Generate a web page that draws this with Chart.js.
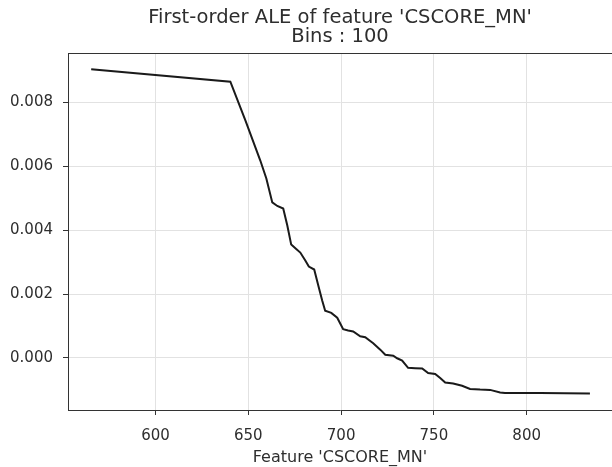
<!DOCTYPE html>
<html>
<head>
<meta charset="utf-8">
<script src="https://cdn.jsdelivr.net/npm/chart.js@4.4.0/dist/chart.umd.min.js"></script>
<style>
	html, body { margin: 0; padding: 0; background: #fff; }
	#wrap { width: 612px; height: 467px; }
</style>
</head>
<body>
<div id="wrap"><canvas id="ale-canvas" width="612" height="467"></canvas></div>
<script>
(function () {
	'use strict';

	// --- Data ---

	const featureValues = [
		565.3, 640.3, 648.4, 656.4, 659.7, 662.9, 665.6, 668.8, 671.0, 673.1,
		675.8, 678.0, 680.7, 682.6, 685.5, 687.7, 689.8, 691.4, 694.7, 697.9,
		701.1, 703.8, 706.5, 710.3, 713.0, 715.7, 717.3, 721.1, 723.8, 728.1,
		730.2, 732.9, 736.1, 739.9, 743.7, 746.9, 750.7, 753.4, 756.1, 760.4,
		765.2, 769.5, 774.9, 780.3, 785.7, 788.3, 807.2, 834.1
	];

	const aleValues = [
		0.00904, 0.00865, 0.00744, 0.00619, 0.00562, 0.00487, 0.00476, 0.00468, 0.00415, 0.00355,
		0.00341, 0.00330, 0.00305, 0.00286, 0.00277, 0.00227, 0.00180, 0.00148, 0.00141, 0.00126,
		0.00090, 0.00086, 0.00083, 0.00068, 0.00065, 0.00053, 0.00046, 0.00026, 0.00010, 0.00007,
		-0.00001, -0.00008, -0.00031, -0.00032, -0.00033, -0.00047, -0.00050, -0.00063, -0.00077, -0.00080,
		-0.00087, -0.00097, -0.00099, -0.00100, -0.00108, -0.00110, -0.00110, -0.00111
	];

	const xTicks = [600, 650, 700, 750, 800];
	const yTicks = [0.000, 0.002, 0.004, 0.006, 0.008];

	const titleLines = ["First-order ALE of feature 'CSCORE_MN'", 'Bins : 100'];
	const xLabel = "Feature 'CSCORE_MN'";

	// --- Styling ---

	const FONT = "'DejaVu Sans', sans-serif";
	const TEXT = '#2e2e2e';
	const SPINE = '#333333';
	const GRID = '#e2e2e2';

	// matplotlib draws a top spine too
	const topSpine = {
		id: 'topSpine',
		afterDraw(chart) {
			const { ctx, chartArea } = chart;
			ctx.save();
			ctx.strokeStyle = SPINE;
			ctx.lineWidth = 1;
			ctx.beginPath();
			ctx.moveTo(chartArea.left, chartArea.top + 0.5);
			ctx.lineTo(chartArea.right, chartArea.top + 0.5);
			ctx.stroke();
			ctx.restore();
		},
	};

	const points = featureValues.map((x, i) => ({ x: x, y: aleValues[i] }));

	new Chart(document.getElementById('ale-canvas'), {
		type: 'line',
		data: {
			datasets: [{
				data: points,
				borderColor: '#1a1a1a',
				borderWidth: 2,
				pointRadius: 0,
				tension: 0,
				fill: false,
			}],
		},
		options: {
			responsive: false,
			animation: false,
			layout: { padding: { left: 0, right: 0, top: 8, bottom: 0 } },
			plugins: {
				legend: { display: false },
				tooltip: { enabled: false },
				title: {
					display: true,
					fullSize: false,
					text: titleLines,
					color: TEXT,
					font: { family: FONT, size: 19.5, weight: 'normal', lineHeight: 1.0 },
					padding: { top: 0, bottom: 6 },
				},
			},
			scales: {
				x: {
					type: 'linear',
					min: 552.8,
					max: 846,
					afterBuildTicks(scale) {
						scale.ticks = xTicks.map(v => ({ value: v }));
					},
					afterFit(scale) {
						scale.height = 57;
					},
					border: { display: true, color: SPINE, width: 1 },
					grid: { color: GRID, tickColor: SPINE, tickLength: 5, drawTicks: true },
					ticks: {
						color: TEXT,
						padding: 12,
						maxRotation: 0,
						font: { family: FONT, size: 15 },
						callback: value => String(value),
					},
					title: {
						display: true,
						text: xLabel,
						color: TEXT,
						font: { family: FONT, size: 16, lineHeight: 1.0 },
						padding: { top: 0, bottom: 1 },
					},
				},
				y: {
					min: -0.00163,
					max: 0.00955,
					afterBuildTicks(scale) {
						scale.ticks = yTicks.map(v => ({ value: v }));
					},
					afterFit(scale) {
						scale.width = 68;
					},
					border: { display: true, color: SPINE, width: 1 },
					grid: { color: GRID, tickColor: SPINE, tickLength: 5, drawTicks: true },
					ticks: {
						color: TEXT,
						padding: 10,
						font: { family: FONT, size: 15 },
						callback: value => value.toFixed(3),
					},
				},
			},
		},
		plugins: [topSpine],
	});
})();
</script>
</body>
</html>
